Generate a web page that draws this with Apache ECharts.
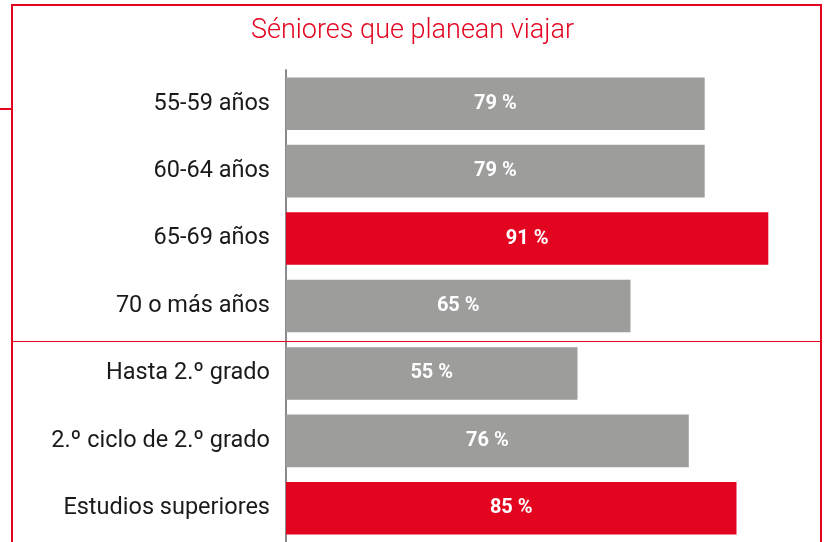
<!DOCTYPE html>
<html>
<head>
<meta charset="utf-8">
<script src="https://cdn.jsdelivr.net/npm/echarts@6/dist/echarts.min.js"></script>
<style>
  html, body { margin: 0; padding: 0; background: #fff; }
  #chart { width: 825px; height: 542px; }
</style>
</head>
<body>
<div id="chart"></div>
<script>
// datos
const categories = [
  "55-59 años",
  "60-64 años",
  "65-69 años",
  "70 o más años",
  "Hasta 2.º grado",
  "2.º ciclo de 2.º grado",
  "Estudios superiores"
];
const values = [79, 79, 91, 65, 55, 76, 85];
const highlighted = [false, false, true, false, false, false, true];

const RED = "#e30520";
const GREY = "#9d9d9c";

const chart = echarts.init(document.getElementById("chart"));

const option = {
  animation: false,
  title: {
    text: "Séniores que planean viajar",
    left: "center",
    top: 13,
    textStyle: {
      color: RED,
      fontSize: 27,
      fontWeight: 300,
      fontFamily: "Roboto"
    }
  },
  grid: {
    left: 286,
    right: 9,
    top: 70,
    bottom: -4
  },
  xAxis: {
    type: "value",
    min: 0,
    max: 100,
    show: false
  },
  yAxis: {
    type: "category",
    inverse: true,
    data: categories,
    axisLine: { show: true, lineStyle: { color: "#8a8a8a", width: 2 } },
    axisTick: { show: false },
    axisLabel: {
      color: "#1a1a1a",
      fontSize: 23.5,
      fontFamily: "Roboto",
      margin: 16
    }
  },
  series: [
    {
      type: "bar",
      barCategoryGap: "22%",
      data: values.map((v, i) => ({
        value: v,
        itemStyle: { color: highlighted[i] ? RED : GREY }
      })),
      label: {
        show: true,
        position: "inside",
        formatter: "{c} %",
        color: "#fff",
        fontSize: 20,
        fontWeight: "bold",
        fontFamily: "Roboto"
      }
    }
  ],
  // marco rojo decorativo
  graphic: [
    {
      type: "polyline",
      shape: { points: [[12, 560], [12, 5], [821, 5], [821, 560]] },
      style: { stroke: RED, lineWidth: 2, fill: null },
      z: 10
    },
    {
      type: "rect",
      shape: { x: 0, y: 108, width: 12, height: 2 },
      style: { fill: RED },
      z: 10
    },
    {
      type: "rect",
      shape: { x: 12, y: 341, width: 809, height: 1 },
      style: { fill: RED },
      z: 10
    }
  ]
};

chart.setOption(option);
</script>
</body>
</html>
